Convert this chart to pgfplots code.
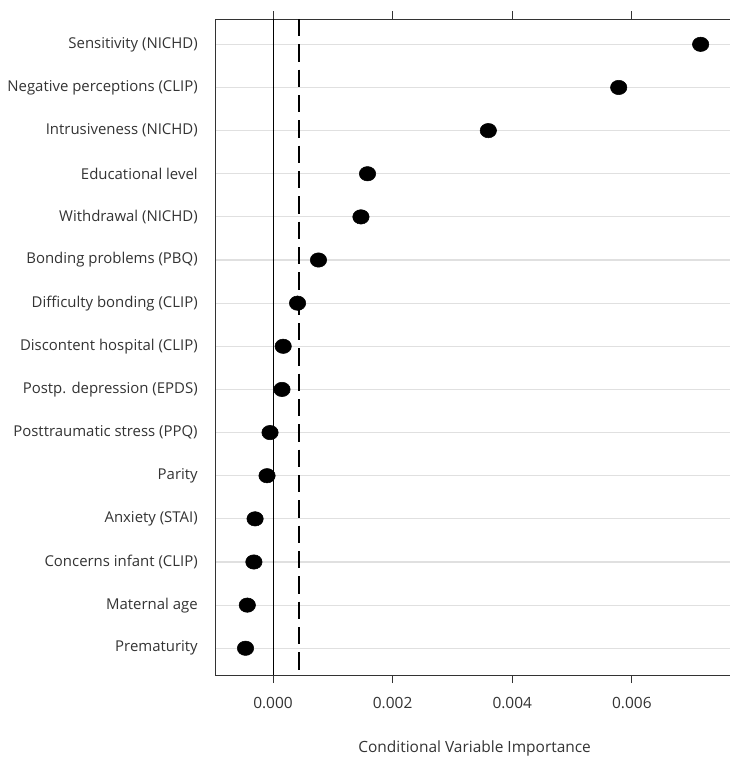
\documentclass[border=0pt]{standalone}
\usepackage{pgfplots}
\pgfplotsset{compat=1.18}
\usepackage{fontspec}
\setmainfont{Open Sans}

\pgfplotstableread{
pos value
1  0.00715
2  0.00578
3  0.00360
4  0.00158
5  0.00147
6  0.00076
7  0.00041
8  0.00017
9  0.00015
10 -0.00005
11 -0.00010
12 -0.00030
13 -0.00032
14 -0.00043
15 -0.00046
}\importance

\begin{document}
\begin{tikzpicture}
\useasboundingbox (-161.8pt,-63.75pt) rectangle (385pt,506.25pt);
\begin{axis}[
  at={(0,0)}, anchor=south west,
  scale only axis,
  width=388.35pt, height=492pt,
  xmin=-0.000958, xmax=0.0077,
  ymin=0.413, ymax=15.62,
  y dir=reverse,
  axis line style={black!80, line width=0.7pt},
  xtick={0,0.002,0.004,0.006},
  xtick pos=both,
  tick align=outside,
  major tick length=6pt,
  xtick style={black!80, line width=0.7pt},
  xticklabel style={/pgf/number format/fixed, /pgf/number format/precision=3,
    /pgf/number format/fixed zerofill, /pgf/number format/assume math mode=true,
    font=\fontsize{11.6pt}{14pt}\selectfont, text=black!80, yshift=-7.5pt},
  scaled x ticks=false,
  ytick={1,...,15},
  yticklabels={Sensitivity (NICHD), Negative perceptions (CLIP), Intrusiveness (NICHD),
    Educational level, Withdrawal (NICHD), Bonding problems (PBQ), Difficulty bonding (CLIP),
    Discontent hospital (CLIP), Postp. depression (EPDS), Posttraumatic stress (PPQ),
    Parity, Anxiety (STAI), Concerns infant (CLIP), Maternal age, Prematurity},
  ytick style={draw=none},
  yticklabel style={font=\fontsize{11.2pt}{13pt}\selectfont, text=black!80, xshift=-4pt},
  ymajorgrids,
  grid style={black!12, line width=0.8pt},
  xlabel={Conditional Variable Importance},
  xlabel style={font=\fontsize{11.6pt}{13pt}\selectfont, text=black!80, yshift=-17pt},
  clip=false,
]
% reference lines: zero and the threshold
\addplot[black, line width=0.7pt] coordinates {(0,0.413) (0,15.62)};
\addplot[black, line width=1.6pt, dash pattern=on 13pt off 6pt] coordinates {(0.00044,0.413) (0.00044,15.62)};
% importance estimates
\addplot[only marks, mark=*, mark size=5.4pt, mark options={fill=black, draw=black, xscale=1.14}]
  table[x=value, y=pos] {\importance};
\end{axis}
\end{tikzpicture}
\end{document}
